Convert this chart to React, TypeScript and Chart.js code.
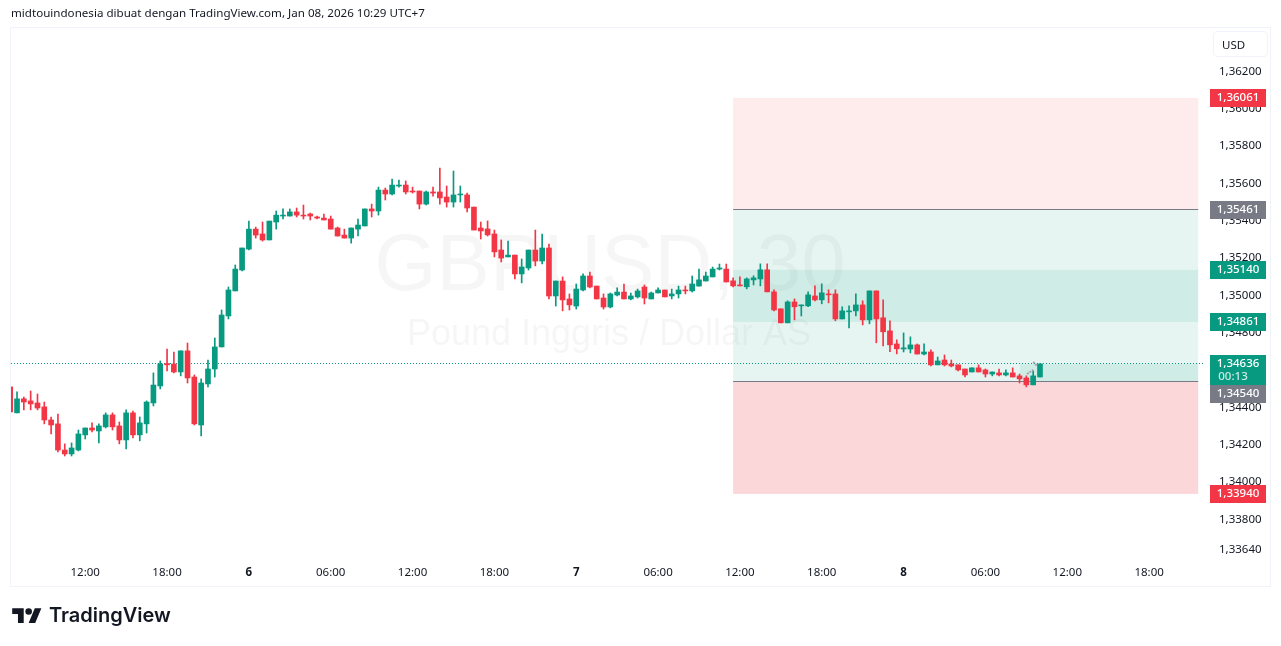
import { useEffect, useRef } from 'react';
import Chart from 'chart.js/auto';

const TITLE = 'midtouindonesia dibuat dengan TradingView.com, Jan 08, 2026 10:29 UTC+7';
const GREEN = '#089981';
const RED = '#F23645';
const GRAY = '#787B86';
const TEXT = '#131722';
const AXIS_FONT = '"Noto Sans", sans-serif';

const opens = [
  1.34513, 1.34374, 1.34449, 1.34438, 1.34427, 1.34406, 1.34336, 1.34315, 1.34175, 1.34154,
  1.34175, 1.34256, 1.34293, 1.34277, 1.34299, 1.34363, 1.34304, 1.34229, 1.34374, 1.34256,
  1.34315, 1.34427, 1.34518, 1.34638, 1.34636, 1.34593, 1.34706, 1.34566, 1.34309, 1.34529,
  1.34609, 1.34727, 1.34893, 1.35027, 1.35139, 1.35251, 1.35358, 1.35332, 1.353, 1.35396,
  1.35428, 1.35428, 1.3545, 1.35433, 1.35439, 1.35423, 1.35417, 1.35412, 1.35364, 1.35326,
  1.3531, 1.35358, 1.35375, 1.35466, 1.35455, 1.35567, 1.35546, 1.35589, 1.35594, 1.35562,
  1.35562, 1.35492, 1.35557, 1.35557, 1.3553, 1.35503, 1.35541, 1.35541, 1.35476, 1.35364,
  1.35359, 1.35332, 1.35246, 1.35209, 1.35219, 1.35118, 1.3515, 1.35246, 1.35187, 1.35257,
  1.35, 1.3508, 1.34984, 1.34946, 1.35032, 1.35107, 1.35053, 1.34989, 1.34941, 1.35005,
  1.35021, 1.34984, 1.34995, 1.35048, 1.34984, 1.35016, 1.35032, 1.35, 1.35011, 1.35032,
  1.35027, 1.35053, 1.3508, 1.35102, 1.35144, 1.35144, 1.35081, 1.35059, 1.35049, 1.35086,
  1.35091, 1.3514, 1.35022, 1.34931, 1.34856, 1.34968, 1.34947, 1.34947, 1.35, 1.34979,
  1.35011, 1.35011, 1.34877, 1.34915, 1.3492, 1.34952, 1.34872, 1.35027, 1.34883, 1.34813,
  1.34743, 1.34716, 1.34716, 1.34738, 1.34689, 1.347, 1.34631, 1.34657, 1.34636, 1.34631,
  1.34609, 1.34593, 1.34615, 1.34604, 1.34582, 1.34588, 1.34577, 1.34588, 1.34572, 1.34561,
  1.34524, 1.34566,
];
const highs = [
  1.34513, 1.34486, 1.34459, 1.34491, 1.34475, 1.34432, 1.34352, 1.34368, 1.34208, 1.34213,
  1.34282, 1.34293, 1.3432, 1.34315, 1.34374, 1.34374, 1.34325, 1.3439, 1.34384, 1.34352,
  1.34438, 1.34588, 1.34652, 1.34716, 1.347, 1.34706, 1.34748, 1.34577, 1.34556, 1.34657,
  1.34775, 1.34925, 1.35048, 1.35166, 1.35257, 1.35401, 1.35369, 1.35396, 1.35401, 1.35455,
  1.35466, 1.35466, 1.35471, 1.35487, 1.35444, 1.35428, 1.35439, 1.35428, 1.35369, 1.35358,
  1.35364, 1.35412, 1.35466, 1.35492, 1.35583, 1.35578, 1.35626, 1.35621, 1.35616, 1.35583,
  1.35562, 1.35562, 1.35583, 1.35685, 1.35589, 1.35669, 1.35589, 1.35551, 1.35476, 1.35396,
  1.35402, 1.35353, 1.353, 1.35294, 1.35219, 1.35198, 1.35246, 1.35353, 1.35332, 1.35278,
  1.3508, 1.35102, 1.35011, 1.35064, 1.35118, 1.35128, 1.35053, 1.35011, 1.35016, 1.35043,
  1.35064, 1.35016, 1.35037, 1.35059, 1.35021, 1.35043, 1.35032, 1.35037, 1.35053, 1.35053,
  1.35107, 1.35144, 1.35128, 1.35155, 1.35171, 1.35171, 1.35097, 1.35102, 1.35097, 1.35108,
  1.35172, 1.35172, 1.35033, 1.34931, 1.34974, 1.34984, 1.34952, 1.35022, 1.35054, 1.35065,
  1.35033, 1.35033, 1.34942, 1.34947, 1.35011, 1.34974, 1.35027, 1.35027, 1.34979, 1.34867,
  1.34765, 1.34802, 1.34781, 1.34743, 1.34743, 1.34711, 1.34673, 1.34684, 1.34657, 1.34631,
  1.34609, 1.34615, 1.34631, 1.34609, 1.34593, 1.34609, 1.34604, 1.34615, 1.34582, 1.34572,
  1.34598, 1.34636,
];
const lows = [
  1.34375, 1.34374, 1.3439, 1.3439, 1.3439, 1.34315, 1.34261, 1.34165, 1.34143, 1.34143,
  1.3417, 1.34234, 1.34272, 1.34213, 1.34293, 1.34282, 1.34208, 1.34181, 1.3424, 1.34224,
  1.34266, 1.34411, 1.34502, 1.34598, 1.34588, 1.34572, 1.34534, 1.34309, 1.3425, 1.34513,
  1.34566, 1.34727, 1.34877, 1.35027, 1.35134, 1.35246, 1.3531, 1.35294, 1.353, 1.35358,
  1.35412, 1.35428, 1.35423, 1.35412, 1.35407, 1.35412, 1.35407, 1.35358, 1.35321, 1.3531,
  1.35283, 1.35321, 1.35375, 1.35423, 1.35433, 1.35514, 1.35541, 1.35583, 1.35546, 1.35551,
  1.35466, 1.35487, 1.35535, 1.35492, 1.35476, 1.35476, 1.35503, 1.3545, 1.35353, 1.35305,
  1.35321, 1.35209, 1.35182, 1.35209, 1.35091, 1.3507, 1.35139, 1.35161, 1.35171, 1.34984,
  1.34946, 1.3492, 1.34925, 1.3493, 1.35027, 1.35043, 1.34984, 1.3493, 1.34936, 1.35,
  1.34984, 1.34979, 1.34989, 1.34957, 1.34984, 1.35016, 1.34995, 1.34984, 1.34989, 1.35011,
  1.35021, 1.35053, 1.3508, 1.35102, 1.35139, 1.35075, 1.35049, 1.35054, 1.35038, 1.35059,
  1.35054, 1.35022, 1.3492, 1.34856, 1.34856, 1.34872, 1.34893, 1.34942, 1.34974, 1.34958,
  1.34963, 1.34867, 1.34877, 1.34829, 1.34893, 1.34845, 1.34851, 1.34749, 1.34733, 1.34701,
  1.3469, 1.347, 1.34695, 1.34689, 1.34684, 1.34625, 1.34631, 1.34625, 1.3462, 1.34598,
  1.34566, 1.34593, 1.34593, 1.34566, 1.34572, 1.34572, 1.34572, 1.34566, 1.34534, 1.34513,
  1.34524, 1.34566,
];
const closes = [
  1.34379, 1.34449, 1.34432, 1.34422, 1.344, 1.34336, 1.34309, 1.34175, 1.34154, 1.34186,
  1.34261, 1.34293, 1.34282, 1.34304, 1.34363, 1.34299, 1.34229, 1.34374, 1.34256, 1.3432,
  1.34432, 1.34523, 1.34636, 1.34631, 1.34593, 1.34706, 1.34561, 1.34315, 1.34534, 1.34609,
  1.34727, 1.34898, 1.35032, 1.35144, 1.35257, 1.35358, 1.35326, 1.353, 1.35401, 1.35433,
  1.35433, 1.3545, 1.35433, 1.35428, 1.35428, 1.35417, 1.35407, 1.35358, 1.35321, 1.3531,
  1.35364, 1.3538, 1.35466, 1.35455, 1.35567, 1.35546, 1.35594, 1.35594, 1.35557, 1.35557,
  1.35492, 1.35557, 1.35551, 1.35525, 1.35503, 1.35541, 1.35546, 1.35471, 1.35353, 1.35348,
  1.35327, 1.35236, 1.35203, 1.35219, 1.35118, 1.35155, 1.35246, 1.35187, 1.35257, 1.35,
  1.3508, 1.34979, 1.34952, 1.35037, 1.35107, 1.35048, 1.34984, 1.34941, 1.35011, 1.35021,
  1.34984, 1.35, 1.35027, 1.34989, 1.35016, 1.35032, 1.34995, 1.35011, 1.35032, 1.35027,
  1.35064, 1.35086, 1.35107, 1.35144, 1.3515, 1.35075, 1.35054, 1.35054, 1.35091, 1.35097,
  1.3514, 1.35022, 1.34925, 1.34856, 1.34968, 1.34942, 1.34952, 1.35006, 1.34979, 1.35017,
  1.35006, 1.34877, 1.3492, 1.3492, 1.34952, 1.34872, 1.35027, 1.34877, 1.34808, 1.34738,
  1.34717, 1.34722, 1.34738, 1.34689, 1.347, 1.34631, 1.34652, 1.34631, 1.34625, 1.34604,
  1.34577, 1.34615, 1.34593, 1.34582, 1.34593, 1.34577, 1.34588, 1.34566, 1.34556, 1.34524,
  1.34572, 1.34636,
];

const priceTicks = [
  1.362, 1.36, 1.358, 1.356, 1.354, 1.352, 1.35, 1.348, 1.346, 1.344, 1.342, 1.34, 1.338, 1.3364,
];
const timeTickIndex = [11, 23, 35, 47, 59, 71, 83, 95, 107, 119, 131, 143, 155, 167];
const timeTickLabels = [
  '12:00', '18:00', '6', '06:00', '12:00', '18:00', '7', '06:00', '12:00', '18:00', '8', '06:00', '12:00', '18:00',
];

// long position tool
const stopTop = 1.36061;
const upperLine = 1.35461;
const bandTop = 1.3514;
const bandBottom = 1.34861;
const lastPrice = 1.34636;
const entryLine = 1.3454;
const stopBottom = 1.3394;
const toolStart = 106;
const toolEnd = 174.2;
const progressStart = 148.07;

const priceLabels = [
  { value: stopTop, text: '1,36061', color: RED, shift: 0 },
  { value: upperLine, text: '1,35461', color: GRAY, shift: 0 },
  { value: bandTop, text: '1,35140', color: GREEN, shift: 0 },
  { value: bandBottom, text: '1,34861', color: GREEN, shift: 0 },
  { value: entryLine, text: '1,34540', color: GRAY, shift: 12.5 },
  { value: stopBottom, text: '1,33940', color: RED, shift: 0 },
];

const band = (ctx: any, x: any, y: any, top: number, bottom: number, start: number, color: string) => {
  ctx.fillStyle = color;
  const left = x.getPixelForValue(start);
  const t = y.getPixelForValue(top);
  ctx.fillRect(left, t, x.getPixelForValue(toolEnd) - left, y.getPixelForValue(bottom) - t);
};

const toolPlugin = {
  id: 'positionTool',
  beforeDatasetsDraw(chart: any) {
    const { ctx, scales, chartArea } = chart;
    const x = scales.x;
    const y = scales.y;
    ctx.save();

    ctx.fillStyle = 'rgba(19,23,34,0.04)';
    ctx.textAlign = 'center';
    ctx.textBaseline = 'middle';
    ctx.font = '80px "Liberation Sans", sans-serif';
    ctx.fillText('GBPUSD, 30', 610, 268);
    ctx.font = '36px "Liberation Sans", sans-serif';
    ctx.fillText('Pound Inggris / Dollar AS', 609, 335.5);

    band(ctx, x, y, stopTop, upperLine, toolStart, 'rgba(242,54,69,0.1)');
    band(ctx, x, y, upperLine, entryLine, toolStart, 'rgba(8,153,129,0.1)');
    band(ctx, x, y, bandTop, bandBottom, toolStart, 'rgba(8,153,129,0.1)');
    band(ctx, x, y, lastPrice, entryLine, progressStart, 'rgba(8,153,129,0.1)');
    band(ctx, x, y, entryLine, stopBottom, toolStart, 'rgba(242,54,69,0.2)');

    ctx.strokeStyle = GRAY;
    ctx.lineWidth = 1;
    for (const v of [upperLine, entryLine]) {
      const py = Math.round(y.getPixelForValue(v)) - 0.5;
      ctx.beginPath();
      ctx.moveTo(x.getPixelForValue(toolStart), py);
      ctx.lineTo(x.getPixelForValue(toolEnd), py);
      ctx.stroke();
    }

    // last price line
    const py = Math.round(y.getPixelForValue(lastPrice)) - 0.5;
    ctx.strokeStyle = GREEN;
    ctx.setLineDash([1, 2]);
    ctx.beginPath();
    ctx.moveTo(chartArea.left, py);
    ctx.lineTo(chartArea.right, py);
    ctx.stroke();
    ctx.restore();
  },
  afterDatasetsDraw(chart: any) {
    const { ctx, scales } = chart;
    const x = scales.x;
    const y = scales.y;
    ctx.save();
    ctx.strokeStyle = '#A3A6AF';
    ctx.lineWidth = 2;
    ctx.setLineDash([2, 1]);
    ctx.beginPath();
    ctx.moveTo(x.getPixelForValue(149.1), y.getPixelForValue(1.34582));
    ctx.lineTo(x.getPixelForValue(150), y.getPixelForValue(1.34604));
    ctx.moveTo(x.getPixelForValue(150), y.getPixelForValue(1.34647));
    ctx.lineTo(x.getPixelForValue(150.6), y.getPixelForValue(1.34625));
    ctx.stroke();
    ctx.restore();
  },
  afterDraw(chart: any) {
    const { ctx, scales } = chart;
    const y = scales.y;
    ctx.save();
    ctx.textAlign = 'center';
    ctx.textBaseline = 'middle';
    ctx.font = `500 11.5px ${AXIS_FONT}`;
    const left = 1210;
    const width = 56;
    const center = left + width / 2;

    // two line label of the running candle
    const lastY = Math.round(y.getPixelForValue(lastPrice));
    ctx.fillStyle = GREEN;
    ctx.fillRect(left, lastY - 9, width, 31);
    ctx.fillStyle = '#FFFFFF';
    ctx.fillText('1,34636', center, lastY - 0.5);
    ctx.fillStyle = '#CCEBE6';
    ctx.fillText('00:13', center - 5, lastY + 13);

    for (const label of priceLabels) {
      const py = Math.round(y.getPixelForValue(label.value) + label.shift);
      ctx.fillStyle = label.color;
      ctx.fillRect(left, py - 9, width, 18);
      ctx.fillStyle = '#FFFFFF';
      ctx.fillText(label.text, center, py);
    }

    ctx.restore();
  },
};

export default function App() {
  const chartRef = useRef<HTMLCanvasElement | null>(null);

  useEffect(() => {
    document.body.style.margin = '0';
    document.body.style.background = '#fff';
    const ctx = chartRef.current?.getContext('2d');
    if (!ctx) return;

    const colors = closes.map((c, i) => (c >= opens[i] ? GREEN : RED));

    const chart = new Chart(ctx, {
      type: 'bar',
      data: {
        datasets: [
          {
            label: 'body',
            data: opens.map((o, i) => ({ x: i, y: [o, closes[i]] })),
            backgroundColor: colors,
            barThickness: 5,
            borderWidth: 0,
            grouped: false,
          },
          {
            label: 'wick',
            data: lows.map((l, i) => ({ x: i, y: [l, highs[i]] })),
            backgroundColor: colors,
            barThickness: 1,
            borderWidth: 0,
            grouped: false,
          },
        ],
      } as any,
      options: {
        responsive: false,
        animation: false,
        layout: { padding: { left: 11, top: 28, right: 0, bottom: 0 } },
        plugins: { legend: { display: false }, tooltip: { enabled: false } },
        scales: {
          x: {
            type: 'linear',
            offset: false,
            min: 0.117,
            max: 175.05,
            grid: { display: false, drawTicks: false, offset: false },
            border: { display: false },
            afterBuildTicks: (scale: any) => {
              scale.ticks = timeTickIndex.map((value) => ({ value }));
            },
            afterFit: (scale: any) => {
              scale.height = 86;
            },
            ticks: {
              autoSkip: false,
              maxRotation: 0,
              padding: 6,
              color: TEXT,
              font: (c: any) => ({
                family: AXIS_FONT,
                size: 11.5,
                weight: timeTickLabels[timeTickIndex.indexOf(c.tick?.value)]?.length === 1 ? 'bold' : 'normal',
              }),
              callback: (v: any) => timeTickLabels[timeTickIndex.indexOf(Number(v))],
            },
          },
          y: {
            type: 'linear',
            position: 'right',
            min: 1.33586,
            max: 1.36435,
            grid: { display: false, drawTicks: false },
            border: { display: false },
            afterBuildTicks: (scale: any) => {
              scale.ticks = priceTicks.map((value) => ({ value }));
            },
            afterFit: (scale: any) => {
              scale.width = 77;
            },
            ticks: {
              autoSkip: false,
              padding: 15,
              labelOffset: -0.5,
              color: TEXT,
              font: { family: AXIS_FONT, size: 11.5 },
              callback: (v: any) => Number(v).toFixed(5).replace('.', ','),
            },
          },
        },
      },
      plugins: [toolPlugin],
    } as any);

    return () => {
      chart.destroy();
    };
  }, []);

  return (
    <div style={{ position: 'relative', width: 1281, height: 646, overflow: 'hidden', background: '#fff' }}>
      <canvas ref={chartRef} width={1281} height={646} style={{ display: 'block' }}></canvas>
      <div
        style={{
          position: 'absolute',
          left: 10,
          top: 27,
          width: 1259,
          height: 558,
          border: '1.5px solid #F0F3FA',
          pointerEvents: 'none',
        }}
      ></div>
      <div
        style={{
          position: 'absolute',
          left: 11,
          top: 5,
          font: `11.6px ${AXIS_FONT}`,
          color: TEXT,
          whiteSpace: 'nowrap',
        }}
      >
        {TITLE}
      </div>
      <div
        style={{
          position: 'absolute',
          left: 1213,
          top: 31,
          width: 45,
          height: 24,
          border: '1px solid #F0F3FA',
          borderRadius: 4,
          font: `11.5px ${AXIS_FONT}`,
          color: TEXT,
          lineHeight: '25px',
          paddingLeft: 8,
        }}
      >
        USD
      </div>
      <svg
        style={{ position: 'absolute', left: 12, top: 605 }}
        width={30}
        height={23}
        viewBox="0 0 36 28"
        fill="#131722"
      >
        <path d="M14 22H7V11H0V4h14v18zM28 22h-8l7.5-18h8L28 22z" />
        <circle cx="20" cy="8" r="4" />
      </svg>
      <div
        style={{
          position: 'absolute',
          left: 49,
          top: 603,
          font: '600 20px Inter, sans-serif',
          color: '#131722',
          whiteSpace: 'nowrap',
        }}
      >
        TradingView
      </div>
    </div>
  );
}
